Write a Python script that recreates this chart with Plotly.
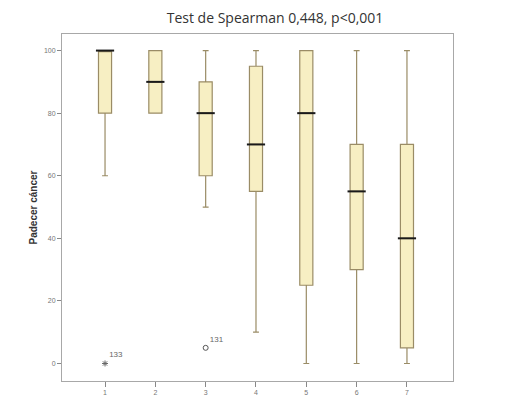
import plotly.graph_objects as go

# box statistics (Padecer cáncer by group 1..7)
groups = [1, 2, 3, 4, 5, 6, 7]
q1 = [80, 80, 60, 55, 25, 30, 5]
median = [100, 90, 80, 70, 80, 55, 40]
q3 = [100, 100, 90, 95, 100, 70, 70]
lower_whisker = [60, 80, 50, 10, 0, 0, 0]
upper_whisker = [100, 100, 100, 100, 100, 100, 100]

# outliers: (group, value, case label)
outlier_groups = [1, 3]
outlier_values = [0, 5]
outlier_labels = ["133", "131"]
outlier_symbols = ["asterisk", "circle-open"]

y_ticks = [0, 20, 40, 60, 80, 100]

fig = go.Figure()

fig.add_trace(go.Box(
    x=groups,
    q1=q1,
    median=median,
    q3=q3,
    lowerfence=lower_whisker,
    upperfence=upper_whisker,
    width=0.26,
    whiskerwidth=0.45,
    fillcolor="#f7efc3",
    line=dict(color="#9a8c66", width=1.2),
    boxpoints=False,
    hoverinfo="skip",
    showlegend=False,
))

# thick black median bars
fig.add_trace(go.Scatter(
    x=groups,
    y=median,
    mode="markers",
    marker=dict(symbol="line-ew", size=13, line=dict(color="#1a1a1a", width=2)),
    hoverinfo="skip",
    showlegend=False,
))

# outliers with case labels
fig.add_trace(go.Scatter(
    x=outlier_groups,
    y=outlier_values,
    mode="markers+text",
    text=outlier_labels,
    textposition="top right",
    textfont=dict(size=8, color="#666666", family="Liberation Sans, Arial"),
    marker=dict(symbol=outlier_symbols, size=5,
                color="#555555", line=dict(color="#666666", width=1)),
    hoverinfo="skip",
    showlegend=False,
))

# the page body adds an 8px offset, so the figure is sized to fit the window
fig.update_layout(
    width=509,
    height=391,
    plot_bgcolor="white",
    paper_bgcolor="white",
    margin=dict(l=54, r=64, t=26, b=18),
    title=dict(
        text="Test de Spearman 0,448, p<0,001",
        x=0.5246, xanchor="center",
        y=0.974, yanchor="middle",
        font=dict(size=14, color="#333333", family="Open Sans, Liberation Sans, Arial"),
    ),
    font=dict(family="Liberation Sans, Arial", color="#777777"),
)

fig.update_xaxes(
    range=[0.145, 7.915],
    tickvals=groups,
    ticktext=[str(g) for g in groups],
    tickfont=dict(size=7, color="#777777"),
    ticks="outside", ticklen=5, tickcolor="#888888",
    showgrid=False, zeroline=False,
    showline=True, linecolor="#a8a8a8", linewidth=1, mirror=True,
    automargin=False,
)

fig.update_yaxes(
    range=[-5.6, 105.3],
    tickvals=y_ticks,
    tickfont=dict(size=7, color="#777777"),
    ticks="outside", ticklen=4, tickcolor="#888888",
    showgrid=False, zeroline=False,
    showline=True, linecolor="#a8a8a8", linewidth=1, mirror=True,
    title=dict(text="<b>Padecer cáncer</b>", standoff=4,
               font=dict(size=10, color="#333333", family="Liberation Sans, Arial")),
    automargin=False,
)

fig.write_html("out.html")
